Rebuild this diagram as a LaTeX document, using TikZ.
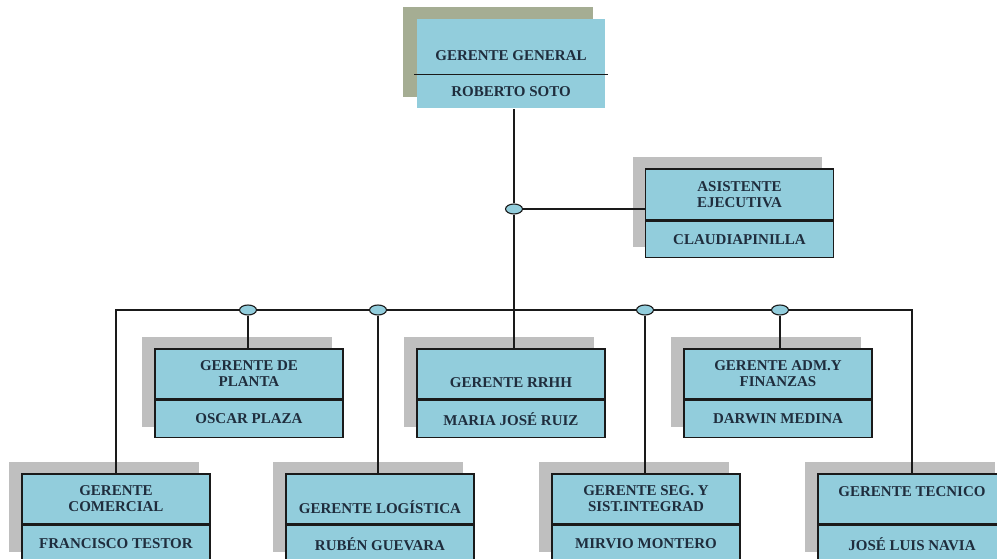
\documentclass[tikz,border=0pt]{standalone}
\usepackage{fontspec}
\setmainfont{Liberation Serif}
\usetikzlibrary{shapes.geometric,backgrounds}
\definecolor{orgceleste}{HTML}{92CDDC}
\definecolor{orgsombra}{HTML}{BFBFBF}
\definecolor{orgoliva}{HTML}{A5AD93}
\definecolor{orgtexto}{HTML}{1F2D3D}
\definecolor{orglinea}{HTML}{1A1A1A}

\tikzset{
  cargo/.style={rectangle, draw=orglinea, line width=1.4pt, fill=orgceleste,
    minimum width=188pt, minimum height=50pt, inner sep=0pt, align=center,
    text=orgtexto, font=\fontsize{15}{16}\selectfont\bfseries},
  persona/.style={cargo, minimum height=37pt, anchor=north},
  union/.style={ellipse, draw=orglinea, line width=1.1pt, fill=orgceleste,
    minimum width=17pt, minimum height=10pt, inner sep=0pt},
  sombra/.style={fill=orgsombra},
  conector/.style={draw=orglinea, line width=1.4pt},
}

\begin{document}
\begin{tikzpicture}[x=1pt, y=-1pt]
  \useasboundingbox (0,0) rectangle (997,559);
  \clip (0,0) rectangle (997,559);

  % gerencia general
  \node[cargo, draw=none, minimum height=55pt] (gg-t) at (511,46.5) {\strut\\GERENTE GENERAL};
  \node[persona, draw=none, minimum height=33pt] (gg-n) at (gg-t.south) {ROBERTO SOTO};
  \draw[conector] ([xshift=-2pt]gg-t.south west) -- ([xshift=2pt]gg-t.south east);

  % asistente
  \node[cargo, minimum height=51pt] (asis-t) at (739.5,194.5) {ASISTENTE\\EJECUTIVA};
  \node[persona, minimum height=36pt] (asis-n) at (asis-t.south) {CLAUDIAPINILLA};

  % segunda fila
  \node[cargo] (planta-t) at (249,374) {GERENTE DE\\PLANTA};
  \node[persona] (planta-n) at (planta-t.south) {OSCAR PLAZA};
  \node[cargo] (rrhh-t) at (511,374) {\strut\\GERENTE RRHH};
  \node[persona] (rrhh-n) at (rrhh-t.south) {MARIA JOSÉ RUIZ};
  \node[cargo] (adm-t) at (778,374) {GERENTE ADM.Y\\FINANZAS};
  \node[persona] (adm-n) at (adm-t.south) {DARWIN MEDINA};

  % tercera fila
  \node[cargo] (com-t) at (116,499) {GERENTE\\COMERCIAL};
  \node[persona] (com-n) at (com-t.south) {FRANCISCO TESTOR};
  \node[cargo] (log-t) at (380,499) {\strut\\GERENTE LOGÍSTICA};
  \node[persona] (log-n) at (log-t.south) {RUBÉN GUEVARA};
  \node[cargo] (seg-t) at (646,499) {GERENTE SEG. Y\\SIST.INTEGRAD};
  \node[persona] (seg-n) at (seg-t.south) {MIRVIO MONTERO};
  \node[cargo] (tec-t) at (912,499) {GERENTE TECNICO\\[-6pt]\strut};
  \node[persona] (tec-n) at (tec-t.south) {JOSÉ LUIS NAVIA};

  % sombras
  \begin{scope}[on background layer]
    \fill[orgoliva] ([shift={(-13,-11)}]gg-t.north west) rectangle ([shift={(-13,-12)}]gg-n.south east);
    \foreach \b in {asis,planta,rrhh,adm,com,log,seg,tec}
      \fill[sombra] ([shift={(-12,-11)}]\b-t.north west) rectangle ([shift={(-12,-11)}]\b-n.south east);
  \end{scope}

  % uniones
  \node[union] (j0) at (514,209) {};
  \node[union] (j1) at (248,310) {};
  \node[union] (j2) at (378,310) {};
  \node[union] (j3) at (645,310) {};
  \node[union] (j4) at (780,310) {};

  % conectores
  \draw[conector] (gg-n.south -| j0) -- (j0);
  \draw[conector] (j0) -- (j0 -| asis-t.west);
  \draw[conector] (j0) -- (j0 |- rrhh-t.north);
  \draw[conector] (com-t.north) |- (j1);
  \draw[conector] (j1) -- (j2);
  \draw[conector] (j2) -- (j3);
  \draw[conector] (j3) -- (j4);
  \draw[conector] (j4) -| (tec-t.north);
  \draw[conector] (j1) -- (j1 |- planta-t.north);
  \draw[conector] (j2) -- (j2 |- log-t.north);
  \draw[conector] (j3) -- (j3 |- seg-t.north);
  \draw[conector] (j4) -- (j4 |- adm-t.north);
\end{tikzpicture}
\end{document}
